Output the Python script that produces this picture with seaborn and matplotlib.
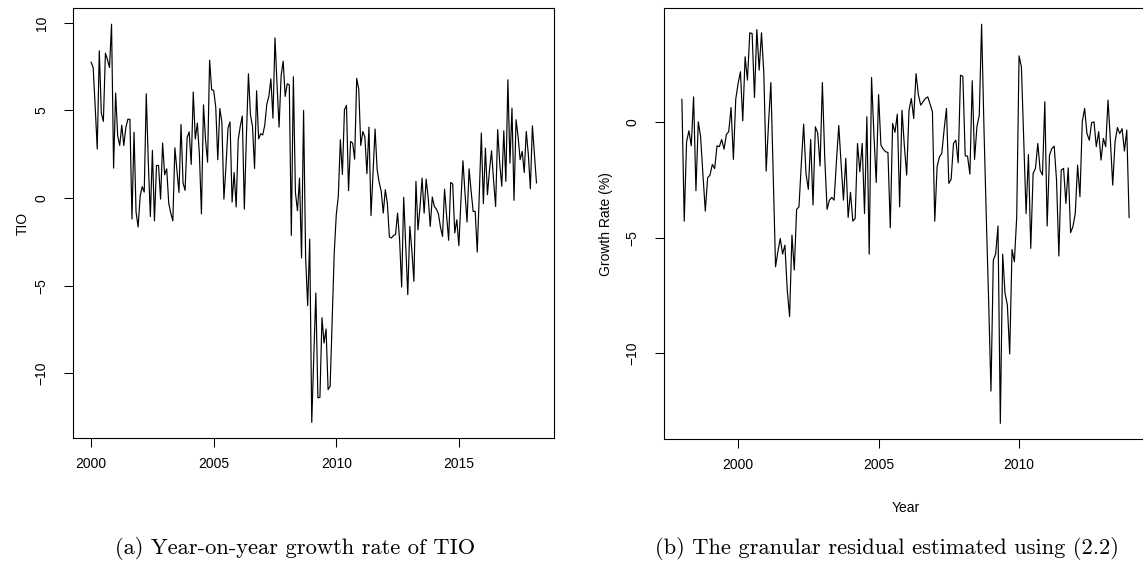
import numpy as np
import pandas as pd
import matplotlib
matplotlib.use("Agg")
import matplotlib.pyplot as plt
import seaborn as sns

# Monthly year-on-year growth rate of TIO, starting January 2000
tio_start_year = 2000
tio_growth = [
    7.76, 7.45, 5.2, 2.8, 8.4, 4.85, 4.37, 8.27, 7.9, 7.45,
    9.92, 1.71, 5.99, 3.55, 3.0, 4.16, 3.0, 4.03, 4.5, 4.49,
    -1.2, 3.76, -0.8, -1.65, 0.1, 0.65, 0.34, 5.95, 2.0, -1.05,
    2.72, -1.3, 1.86, 1.86, -0.06, 3.14, 1.33, 1.67, -0.3, -0.86,
    -1.3, 2.87, 1.6, 0.32, 4.2, 0.86, 0.44, 3.46, 3.78, 1.92,
    6.05, 3.37, 4.28, 2.5, -0.9, 5.32, 3.33, 2.05, 7.87, 6.18,
    6.14, 5.19, 2.19, 5.11, 4.33, -0.06, 1.8, 3.99, 4.35, -0.23,
    1.46, -0.51, 3.33, 4.09, 4.68, -0.63, 3.5, 7.09, 4.75, 4.09,
    1.69, 6.12, 3.38, 3.67, 3.6, 4.16, 5.36, 5.8, 6.8, 4.56,
    9.14, 6.5, 4.05, 6.98, 7.81, 5.8, 6.52, 6.46, -2.13, 6.92,
    0.32, -0.72, 1.14, -3.42, 5.0, -3.4, -6.14, -2.34, -12.8, -9.0,
    -5.42, -11.4, -11.37, -6.83, -8.27, -7.47, -10.93, -10.74, -7.0, -3.14,
    -0.95, 0.1, 3.33, 1.35, 5.04, 5.29, 0.42, 3.23, 3.14, 2.22,
    6.83, 6.22, 3.0, 3.8, 3.48, 1.39, 4.05, -1.0, 1.5, 3.94,
    1.62, 0.89, 0.4, -0.86, 0.48, -0.29, -2.22, -2.28, -2.13, -2.09,
    -0.86, -2.4, -5.08, 0.04, -2.8, -5.51, -1.62, -3.0, -4.75, 0.95,
    -1.81, -0.5, 1.14, -0.86, 1.08, 0.0, -1.62, 0.06, -0.48, -0.63,
    -0.9, -1.65, -2.19, 0.51, -1.0, -2.41, 0.89, 0.8, -1.99, -1.24,
    -2.72, -0.2, 2.13, 0.3, -1.37, 1.67, 0.4, -0.76, -0.76, -3.08,
    0.2, 3.71, -0.32, 2.85, 0.19, 1.6, 2.7, 1.0, -0.48, 3.9,
    2.0, 0.67, 3.84, 0.95, 6.75, 2.0, 5.13, -0.13, 4.47, 3.5,
    2.19, 2.66, 1.46, 3.8, 2.5, 0.53, 4.12, 2.5, 0.86,
]

# Monthly granular residual (growth rate, %), starting January 1998
resid_start_year = 1998
granular_residual = [
    1.01, -4.28, -0.84, -0.36, -1.01, 1.11, -2.96, 0.03, -0.62, -2.28,
    -3.84, -2.4, -2.28, -1.82, -2.0, -1.01, -1.05, -0.74, -1.16, -0.52,
    -0.4, 0.65, -1.6, 1.01, 1.69, 2.2, 0.07, 2.85, 1.84, 3.89,
    3.86, 1.08, 4.03, 2.27, 3.89, 2.12, -2.11, -0.04, 1.73, -2.3,
    -6.26, -5.6, -5.03, -5.71, -5.32, -7.27, -8.42, -4.88, -6.4, -3.77,
    -3.66, -1.8, -0.07, -2.21, -2.9, -0.74, -3.58, -0.19, -0.45, -1.89,
    1.73, -1.5, -3.77, -3.37, -3.25, -3.37, -1.7, -0.13, -1.8, -3.37,
    -1.55, -4.12, -3.03, -4.28, -4.16, -0.91, -2.14, -0.91, -3.95, 0.25,
    -5.71, 1.95, -0.5, -2.6, 1.21, -0.98, -1.16, -1.27, -1.3, -4.57,
    -0.04, -0.43, 0.36, -3.66, 0.53, -1.0, -2.28, 0.53, 1.04, 0.17,
    2.12, 1.2, 0.75, 0.9, 1.04, 1.11, 0.8, 0.46, -4.28, -1.92,
    -1.49, -1.34, -0.3, 0.61, -2.64, -2.46, -0.91, -0.77, -1.75, 2.05,
    2.0, -1.45, -1.46, -2.24, 1.81, -1.6, -0.19, 0.32, 4.26, -0.19,
    -4.09, -7.7, -11.65, -5.97, -5.71, -4.49, -13.05, -5.71, -7.41, -7.92,
    -10.04, -5.51, -6.04, -4.09, 2.89, 2.41, -0.77, -3.95, -1.39, -5.46,
    -2.21, -1.99, -0.91, -2.07, -2.28, 0.9, -4.49, -1.42, -1.13, -1.03,
    -2.5, -5.79, -2.07, -1.99, -3.51, -1.97, -4.78, -4.52, -3.95, -1.85,
    -3.22, 0.03, 0.61, -0.48, -0.77, -0.01, 0.03, -1.05, -0.4, -1.63,
    -0.69, -1.05, 0.97, -0.77, -2.72, -0.84, -0.22, -0.48, -0.27, -1.24,
    -0.33, -4.13,
]

tio_ticks_x = [2000, 2005, 2010, 2015]
tio_ticks_y = [-10, -5, 0, 5, 10]
resid_ticks_x = [2000, 2005, 2010]
resid_ticks_y = [-10, -5, 0]

caption_a = "(a) Year-on-year growth rate of TIO"
caption_b = "(b) The granular residual estimated using (2.2)"


def monthly_frame(start_year, values):
    n = len(values)
    return pd.DataFrame({"time": start_year + np.arange(n) / 12.0,
                         "value": values})


tio_df = monthly_frame(tio_start_year, tio_growth)
resid_df = monthly_frame(resid_start_year, granular_residual)

sns.set_theme(style="ticks")
plt.rcParams["font.family"] = ["Liberation Sans", "DejaVu Sans"]
plt.rcParams["axes.edgecolor"] = "black"
plt.rcParams["axes.linewidth"] = 0.8

W, H = 1143, 564
fig = plt.figure(figsize=(W / 100, H / 100), dpi=100)
fig.patch.set_facecolor("white")

ax1 = fig.add_axes([73.3 / W, (H - 438.3) / H, (554.3 - 73.3) / W, 430.0 / H])
ax2 = fig.add_axes([664.0 / W, (H - 439.3) / H, 483.0 / W, 431.0 / H])


def r_limits(series):
    lo, hi = float(np.min(series)), float(np.max(series))
    pad = 0.04 * (hi - lo)
    return lo - pad, hi + pad


def draw_panel(ax, df, xticks, yticks, ylabel, ylabel_x, xlabel=None):
    sns.lineplot(data=df, x="time", y="value", ax=ax, color="black",
                 linewidth=0.85, estimator=None, legend=False)
    ax.set_xlim(*r_limits(df["time"]))
    ax.set_ylim(*r_limits(df["value"]))
    ax.set_xticks(xticks)
    ax.set_xticklabels([str(t) for t in xticks])
    ax.set_yticks(yticks)
    ax.set_yticklabels([str(t).replace("-", "\u2212") for t in yticks])
    ax.tick_params(axis="both", direction="out", length=6.3, width=0.75,
                   color="black", labelsize=10, labelcolor="black")
    ax.tick_params(axis="x", pad=7.5)
    ax.tick_params(axis="y", pad=11.5)
    for lab in ax.get_yticklabels():
        lab.set_rotation(90)
        lab.set_va("center")
    for side in ("top", "right", "bottom", "left"):
        ax.spines[side].set_visible(True)
        ax.spines[side].set_color("black")
        ax.spines[side].set_linewidth(0.8)
    ax.set_ylabel(ylabel, fontsize=10, color="black")
    ax.yaxis.set_label_coords(ylabel_x, 0.5)
    if xlabel:
        ax.set_xlabel(xlabel, fontsize=10, color="black")
        ax.xaxis.set_label_coords(0.5, -0.143)
    else:
        ax.set_xlabel("")
    ax.grid(False)
    ax.set_facecolor("white")


draw_panel(ax1, tio_df, tio_ticks_x, tio_ticks_y, "TIO", -0.0906)
draw_panel(ax2, resid_df, resid_ticks_x, resid_ticks_y, "Growth Rate (%)",
           -0.1056, xlabel="Year")

fig.text(295 / W, 1 - 549 / H, caption_a, ha="center", va="center",
         fontsize=16.2, family="cmr10", color="black")
fig.text(886.5 / W, 1 - 549 / H, caption_b, ha="center", va="center",
         fontsize=16.2, family="cmr10", color="black")

fig.savefig("out.png", dpi=100, facecolor="white")
